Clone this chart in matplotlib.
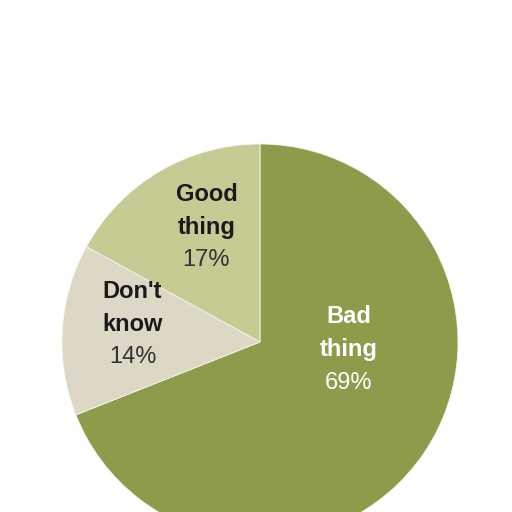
import numpy as np
import matplotlib.pyplot as plt

# Survey answers
labels = ['Bad\nthing', "Don't\nknow", 'Good\nthing']
values = [69, 14, 17]
colors = ['#8d9b4a', '#dcd8c5', '#c5cb93']
text_colors = ['white', '#1a1a1a', '#1a1a1a']

# label placement (distance from centre as fraction of radius, angle in degrees)
label_pos = [(0.45, -5), (0.65, 172), (0.64, 115)]

fig = plt.figure(figsize=(5.12, 5.12), dpi=100)
ax = fig.add_axes([0, 0, 1, 1])

# pie centre at (260, 342) px, radius 198 px
r_px = 198
cx, cy = 260, 342
ax.pie(values, colors=colors, startangle=90, counterclock=False,
       radius=1, center=(0, 0),
       wedgeprops=dict(edgecolor='#f4f4ee', linewidth=0.6))

ax.set_xlim(-cx / r_px, (512 - cx) / r_px)
ax.set_ylim(-(512 - cy) / r_px, cy / r_px)
ax.set_aspect('auto')
ax.axis('off')

step = 33 / r_px  # line spacing
for lab, val, tc, (d, ang) in zip(labels, values, text_colors, label_pos):
    x = d * np.cos(np.radians(ang))
    y = d * np.sin(np.radians(ang))
    lines = lab.split('\n')
    for i, ln in enumerate(lines):
        ax.text(x, y + step * (1 - i), ln, ha='center', va='center',
                fontsize=17, fontweight='bold', color=tc,
                family='Liberation Sans')
    ax.text(x, y - step, f'{val}%', ha='center', va='center', fontsize=17,
            color=tc if tc == 'white' else '#333333', family='Liberation Sans')

fig.savefig('out.png', dpi=100)
